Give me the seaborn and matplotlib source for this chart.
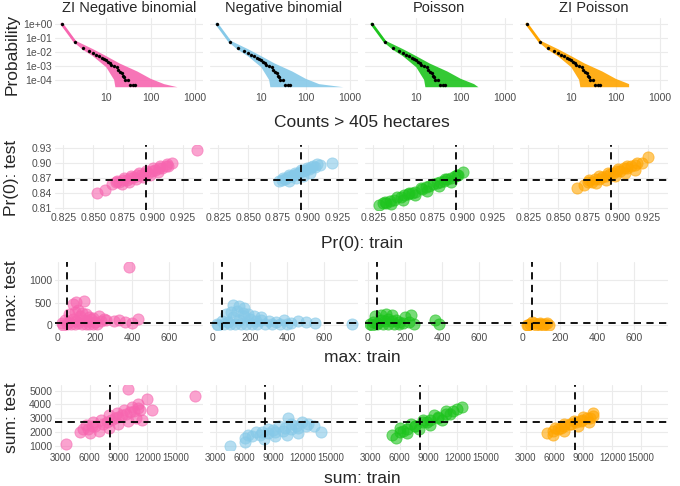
import numpy as np
import pandas as pd
import matplotlib
matplotlib.use("Agg")
import matplotlib.pyplot as plt
import seaborn as sns

sns.set_theme(style="whitegrid")
plt.rcParams['font.family'] = ['Liberation Sans', 'DejaVu Sans']

models = ["ZI Negative binomial", "Negative binomial", "Poisson", "ZI Poisson"]
colors = ["#F766B0", "#86C9E8", "#1EC41E", "#FFA500"]

# ---- Row 1: distribution of counts ----
obs_x = [1, 2, 3, 4, 5, 6, 7, 8, 9, 10, 11, 12, 13, 15, 17, 18, 20, 22, 24, 25, 27, 30, 35, 40, 45]
obs_p = [1, 0.05, 0.02, 0.012, 0.008, 0.006, 0.005, 0.004, 0.003, 0.0025, 0.002, 0.0015, 0.0012,
         0.001, 0.0008, 0.0005, 0.0004, 0.0003, 0.0002, 0.00015, 0.0001, 0.0001, 4e-5, 4e-5, 4e-5]
band_up_x = [1, 2, 3, 5, 10, 20, 50, 100, 200]
band_up_p = [1, 0.065, 0.035, 0.016, 0.005, 0.0015, 4e-4, 1.2e-4, 5e-5]
band_lo_x = [1, 2, 3, 5, 10, 15, 16]
band_lo_p = [1, 0.04, 0.014, 0.005, 8e-4, 1e-4, 3e-5]
band_end = [400, 700, 250, 200]
band_floor = 3e-5

# ---- Row 2: Pr(0) ----
pr0_obs = (0.894, 0.866)
pr0 = {
 0: ([0.866,0.872,0.878,0.884,0.890,0.896,0.902,0.908,0.913, 0.870,0.876,0.882,0.888,0.894,0.900,0.906,0.912,0.916,
      0.874,0.880,0.886,0.892,0.898,0.904,0.869,0.875,0.881,0.887,0.893,0.899,0.905,0.911, 0.853,0.860,0.937],
     [0.857,0.862,0.866,0.871,0.875,0.880,0.885,0.889,0.893, 0.864,0.869,0.874,0.879,0.884,0.889,0.893,0.897,0.900,
      0.858,0.862,0.867,0.872,0.876,0.881,0.861,0.866,0.870,0.875,0.880,0.884,0.889,0.893, 0.840,0.846,0.926]),
 1: ([0.876,0.881,0.886,0.891,0.896,0.901,0.906,0.910, 0.879,0.884,0.889,0.894,0.899,0.904,0.908,
      0.884,0.890,0.896,0.902,0.878,0.883,0.888,0.893,0.898,0.903,0.920],
     [0.863,0.868,0.873,0.878,0.883,0.888,0.892,0.896, 0.870,0.875,0.880,0.885,0.890,0.894,0.898,
      0.864,0.869,0.874,0.880,0.866,0.871,0.876,0.881,0.886,0.891,0.900]),
 2: ([0.830,0.836,0.842,0.848,0.854,0.860,0.866,0.872,0.878,0.884,0.890,0.896,0.900,
      0.835,0.845,0.855,0.865,0.875,0.885,0.895, 0.840,0.850,0.860,0.870,0.880,0.890,
      0.833,0.839,0.851,0.857,0.869,0.881,0.887,0.893],
     [0.815,0.820,0.826,0.831,0.837,0.842,0.848,0.853,0.859,0.864,0.870,0.876,0.881,
      0.822,0.831,0.840,0.849,0.858,0.867,0.876, 0.818,0.826,0.835,0.844,0.853,0.862,
      0.819,0.824,0.835,0.840,0.851,0.862,0.867,0.873]),
 3: ([0.866,0.872,0.878,0.884,0.890,0.896,0.902,0.908,0.914,0.920, 0.876,0.884,0.892,0.900,0.908,0.916,
      0.882,0.890,0.898,0.906,0.914,0.875,0.881,0.887,0.893,0.899,0.905,0.911,0.925],
     [0.850,0.856,0.862,0.867,0.873,0.879,0.884,0.890,0.895,0.900, 0.866,0.873,0.880,0.887,0.893,0.899,
      0.860,0.866,0.873,0.880,0.886,0.861,0.867,0.872,0.878,0.883,0.889,0.894,0.912]),
}

# ---- Row 3: max ----
max_obs = (50, 50)
mx = {
 0: ([20,40,60,80,100,120,140,160,180,200,230,260,300,330,360,400,430, 60,90,110,130,150,170,190,220,250,
      30,50,70,90,110,130,150,170,190,210, 80,100,140,385],
     [60,120,80,150,100,200,120,90,150,80,100,120,90,110,70,60,140, 250,300,350,280,250,180,160,200,150,
      20,30,40,30,50,40,30,40,30,40, 480,520,550,1300]),
 1: ([20,50,80,110,140,170,200,230,260,300,340,380,420,460,500,550,750, 70,100,130,160,190,220,260,
      30,60,90,120,150,180,210,240,280,320,360,400, 110,140,170],
     [40,100,80,180,120,200,150,100,130,90,80,120,60,90,70,50,30, 250,300,330,280,250,200,180,
      20,30,40,30,40,30,40,30,30,30,30,30, 450,420,380]),
 2: ([10,30,50,70,90,110,130,150,170,190,220,250, 40,70,100,130, 20,50,80,110,140,170, 360,380, 200,230],
     [40,80,60,120,100,140,90,110,80,60,70,40, 200,230,260,220, 20,30,30,30,30,30, 120,40, 180,240]),
 3: ([20,40,60,80,100,120,140, 50,90,130, 30,70,110],
     [20,40,50,30,40,30,20, 70,60,50, 10,10,10]),
}

# ---- Row 4: sum ----
sum_obs = (8100, 2700)
sm = {
 0: ([5000,5800,6600,7400,8200,9000,9800,10600,11200, 5600,6400,7200,8000,8800,9600,10400,11000,
      6000,7000,8000,9000,10000,10800, 5300,6200,7800,8600,9400,10200,11000,
      3500,12000,12500,10000,17000,11500],
     [2000,2200,2400,2600,2900,3100,3300,3500,3600, 2500,2700,2900,3200,3400,3600,3800,4000,
      1900,2100,2300,2600,2800,3000, 2250,2450,2750,3000,3250,3450,3750,
      1100,4400,3600,5100,4600,2900]),
 1: ([6000,6800,7600,8400,9200,10000,10800,11600,12400,13200, 7200,8400,9600,10800,12000,
      8000,9200,10400,11600, 6400,7800,9000,10200,11400,12600, 4500,6000,14000,10500],
     [1600,1700,1800,1900,2000,2100,2200,2300,2400,2400, 2000,2200,2400,2600,2700,
      1500,1700,1800,1900, 1800,2000,2150,2300,2450,2550, 1000,1300,2000,3000]),
 2: ([5200,6000,6800,7600,8400,9200,10000,10800,11600, 6000,7200,8400,9600,10800,12000,
      5600,6800,8000,9200,10400, 6400,7600,8800,10000,11200, 12500],
     [1800,2000,2200,2400,2700,2900,3100,3300,3500, 2300,2600,2900,3200,3500,3700,
      1600,1900,2200,2500,2900, 2100,2400,2700,3000,3300, 3800]),
 3: ([5200,5800,6400,7000,7600,8200,8800,9400,10000, 6000,7000,8000,9000,10000, 5800,7000,8400,9600,
      6700,7700,8700,9700],
     [1900,2050,2200,2400,2550,2700,2850,3000,3150, 2300,2550,2800,3100,3350, 1800,2100,2400,2700,
      2300,2550,2800,3050]),
}

W, H = 680, 486
fig = plt.figure(figsize=(6.8, 4.86), dpi=100)
lefts = [55, 210, 365, 520]
pw = 148
rows = [(18, 90), (145, 210), (262, 330), (385, 450)]

def ax_at(col, row):
    l = lefts[col]; t, b = rows[row]
    return fig.add_axes([l / W, 1 - b / H, pw / W, (b - t) / H])

def style(ax, ylab=False):
    ax.set_facecolor("white")
    for s in ax.spines.values():
        s.set_visible(False)
    ax.grid(True, color="#EBEBEB", linewidth=0.8)
    ax.tick_params(axis="both", labelsize=7.5, colors="#4D4D4D", length=0, pad=2)
    if not ylab:
        ax.set_yticklabels([])
    ax.set_xlabel(""); ax.set_ylabel("")

for c in range(4):
    ax = ax_at(c, 0)
    ux = band_up_x + [band_end[c]]
    upp = band_up_p + [band_floor]
    lx = band_lo_x + [band_end[c]]
    lp = band_lo_p + [band_floor]
    ax.fill(ux + lx[::-1], upp + lp[::-1], color=colors[c], alpha=0.9, lw=0)
    ax.plot([1, 2], [1, 0.05], color=colors[c], lw=2)
    sns.scatterplot(x=obs_x, y=obs_p, ax=ax, color="black", s=5, edgecolor=None, zorder=5)
    ax.set_xscale("log"); ax.set_yscale("log")
    ax.set_xlim(0.7, 1500); ax.set_ylim(1.9e-5, 2.7)
    ax.set_xticks([10, 100, 1000]); ax.set_xticklabels(["10", "100", "1000"])
    ax.set_yticks([1, 0.1, 0.01, 0.001, 0.0001])
    ax.minorticks_off()
    ax.set_title(models[c], fontsize=10.5, pad=4)
    style(ax, c == 0)
    if c == 0:
        ax.set_yticklabels(["1e+00", "1e-01", "1e-02", "1e-03", "1e-04"])

    specs = [(pr0, pr0_obs, (0.818, 0.942), (0.805, 0.935), [0.825, 0.85, 0.875, 0.9, 0.925],
              ["0.825", "0.850", "0.875", "0.900", "0.925"], [0.81, 0.84, 0.87, 0.90, 0.93],
              ["0.81", "0.84", "0.87", "0.90", "0.93"]),
             (mx, max_obs, (-15, 780), (-100, 1400), [0, 200, 400, 600], ["0", "200", "400", "600"],
              [0, 500, 1000], ["0", "500", "1000"]),
             (sm, sum_obs, (2400, 17800), (700, 5400), [3000, 6000, 9000, 12000, 15000],
              ["3000", "6000", "9000", "12000", "15000"], [1000, 2000, 3000, 4000, 5000],
              ["1000", "2000", "3000", "4000", "5000"])]
    for r, (d, ob, xl, yl, xt, xtl, yt, ytl) in enumerate(specs, start=1):
        ax = ax_at(c, r)
        xs, ys = d[c]
        sns.scatterplot(x=xs, y=ys, ax=ax, color=colors[c], s=65, alpha=0.6, edgecolor=None)
        ax.axvline(ob[0], color="black", ls=(0, (4, 3)), lw=1.3)
        ax.axhline(ob[1], color="black", ls=(0, (4, 3)), lw=1.3)
        ax.set_xlim(*xl); ax.set_ylim(*yl)
        ax.set_xticks(xt); ax.set_xticklabels(xtl)
        ax.set_yticks(yt); ax.set_yticklabels(ytl)
        style(ax, c == 0)
        if r == 3:
            ax.tick_params(axis="x", labelsize=7)

ylabs = ["Probability", "Pr(0): test", "max: test", "sum: test"]
xlabs = ["Counts > 405 hectares", "Pr(0): train", "max: train", "sum: train"]
xlab_y = [122, 243, 357, 478]
for r in range(4):
    t, b = rows[r]
    fig.text(12 / W, 1 - (t + b) / 2 / H, ylabs[r], rotation=90, va="center", ha="center", fontsize=12.5)
    fig.text(362 / W, 1 - xlab_y[r] / H, xlabs[r], va="center", ha="center", fontsize=12.5)

fig.savefig("out.png", dpi=100)
